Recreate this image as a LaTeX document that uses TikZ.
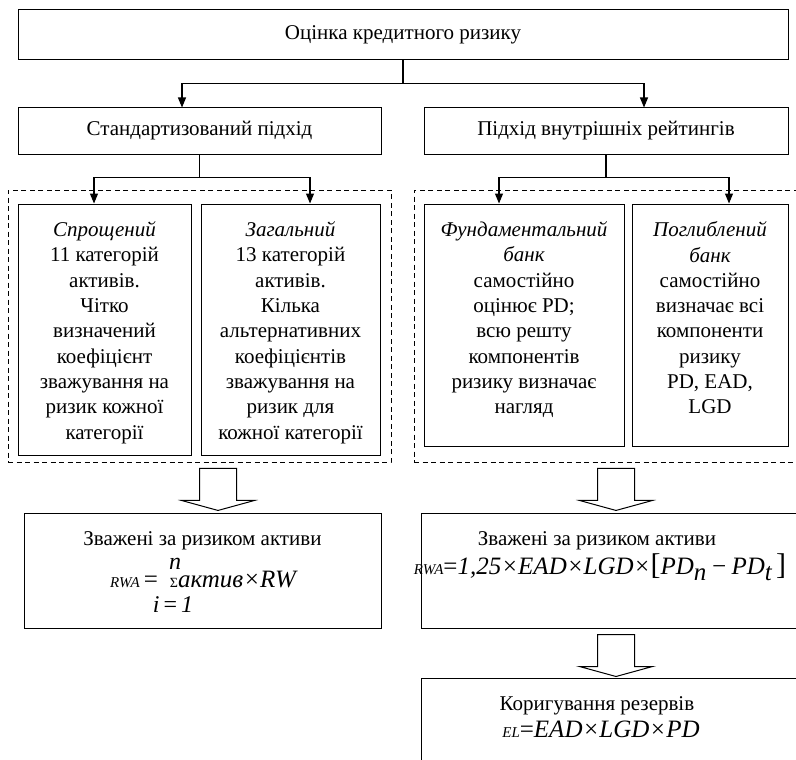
\documentclass[tikz,border=0pt]{standalone}
\usepackage{fontspec}
\setmainfont{Liberation Serif}
\usepackage{tikz}
\usetikzlibrary{arrows.meta,positioning,calc}
\newcommand{\fsz}[1]{\fontsize{#1}{#1}\selectfont}
\newcommand{\hollowarrow}[1]{%
  \draw[hollow] (#1) ++(-18.5,0) -- ++(37,0) -- ++(0,32) -- ++(18,0)
    -- ++(-36.5,10) -- ++(-36.5,-10) -- ++(18,0) -- cycle;}
\tikzset{
  box/.style={
    draw,
    line width=1pt,
    inner sep=0pt
  },
  group/.style={
    draw,
    line width=0.9pt,
    dash pattern=on 5pt off 3.5pt,
    inner sep=0pt
  },
  txt/.style={
    align=center,
    inner sep=0pt,
    font=\fontsize{21}{25.3}\selectfont
  },
  formula/.style={
    inner sep=0pt,
    anchor=base
  },
  conn/.style={-{Triangle[length=10pt,width=8pt]},line width=1.1pt},
  hollow/.style={draw,line width=1pt,fill=white,line join=miter}
}

\begin{document}
\begin{tikzpicture}[x=1pt,y=-1pt]
  \useasboundingbox (0,0) rectangle (796,760);
  \clip (0,0) rectangle (796,760);
  \path[fill=white] (0,0) rectangle (796,760);
  % top levels
  \node[box,txt,minimum width=770pt,minimum height=50pt] (top) at (403,35) {Оцінка кредитного ризику};
  \node[box,txt,minimum width=363pt,minimum height=46pt] (std) at (199.5,131) {Стандартизований підхід};
  \node[box,txt,minimum width=364pt,minimum height=46pt] (irb) at (606,131) {Підхід внутрішніх рейтингів};
  % groups
  \node[group,minimum width=383pt,minimum height=272pt] (dashL) at (199.5,326) {};
  \node[group,minimum width=426pt,minimum height=272pt] (dashR) at (627,326) {};
  \node[box,minimum width=173pt,minimum height=251pt] (simp) at (104.5,329.5) {};
  \node[box,minimum width=179pt,minimum height=251pt] (gen) at (290.5,329.5) {};
  \node[box,minimum width=200pt,minimum height=242pt] (fund) at (524,325) {};
  \node[box,minimum width=156pt,minimum height=242pt] (adv) at (710,325) {};
  \node[txt,below=18pt of simp.north] (simptxt) {\textit{Спрощений}\\11 категорій\\активів.\\Чітко\\визначений\\коефіцієнт\\зважування на\\ризик кожної\\категорії};
  \node[txt,below=18pt of gen.north] (gentxt) {\textit{Загальний}\\13 категорій\\активів.\\Кілька\\альтернативних\\коефіцієнтів\\зважування на\\ризик для\\кожної категорії};
  \node[txt,below=18pt of fund.north] (fundtxt) {\textit{Фундаментальний}\\\textit{банк}\\самостійно\\оцінює PD;\\всю решту\\компонентів\\ризику визначає\\нагляд};
  \node[txt,below=18pt of adv.north] (advtxt) {\textit{Поглиблений}\\\textit{банк}\\самостійно\\визначає всі\\компоненти\\ризику\\PD, EAD,\\LGD};
  % connectors
  \draw[line width=1.1pt] (top.south) -- ++(0,23) coordinate (fork1);
  \draw[conn] (fork1) -| ([xshift=-17.5pt]std.north);
  \draw[conn] (fork1) -| ([xshift=38pt]irb.north);
  \draw[line width=1.1pt] (std.south) -- ++(0,23) coordinate (fork2);
  \draw[conn] (fork2) -| ([xshift=-10.5pt]simp.north);
  \draw[conn] (fork2) -| ([xshift=19.5pt]gen.north);
  \draw[line width=1.1pt] (irb.south) -- ++(0,23) coordinate (fork3);
  \draw[conn] (fork3) -| ([xshift=-25pt]fund.north);
  \draw[conn] (fork3) -| ([xshift=19pt]adv.north);
  % results
  \node[box,minimum width=357pt,minimum height=115pt] (rwaL) at (202.5,570.5) {};
  \node[box,minimum width=392pt,minimum height=115pt] (rwaR) at (617,570.5) {};
  \node[box,minimum width=392pt,minimum height=115pt] (el) at (617,735.5) {};
  \node[txt,below=19pt of rwaL.north] (rwaLtit) {Зважені за ризиком активи};
  \node[formula] (rwaLf) at (203,587) {{\fsz{15}\itshape RWA}{\fsz{25}\,=\hspace{12pt}{\fsz{14}Σ}\itshape актив×RW}};
  \node[formula,font=\fsz{24}\itshape] (sumtop) at (175,569) {n};
  \node[formula,font=\fsz{24}] (sumbot) at (173,612) {\textit{i}\,=\,\textit{1}};
  \node[txt,below=19pt of rwaR.north,xshift=-20pt] (rwaRtit) {Зважені за ризиком активи};
  \node[formula] (rwaRf) at (600,574) {{\fsz{15}\itshape RWA}{\fsz{25}=\itshape 1,25×EAD×LGD×{\upshape\fsz{30}[}PD\raisebox{-6pt}{n}\,−\,PD\raisebox{-6pt}{t}\,{\upshape\fsz{30}]}}};
  \node[txt,below=19pt of el.north,xshift=-20pt] (eltit) {Коригування резервів};
  \node[formula] (elf) at (601,737) {{\fsz{15}\itshape EL}{\fsz{25}=\itshape EAD×LGD×PD}};
  % block arrows
  \coordinate (harrL) at ([xshift=18.5pt,yshift=-6pt]dashL.south);
  \coordinate (harrR) at ([xshift=-11pt,yshift=-6pt]dashR.south);
  \coordinate (harrE) at ([xshift=-1pt,yshift=-6pt]rwaR.south);
  \hollowarrow{harrL}
  \hollowarrow{harrR}
  \hollowarrow{harrE}
\end{tikzpicture}
\end{document}
